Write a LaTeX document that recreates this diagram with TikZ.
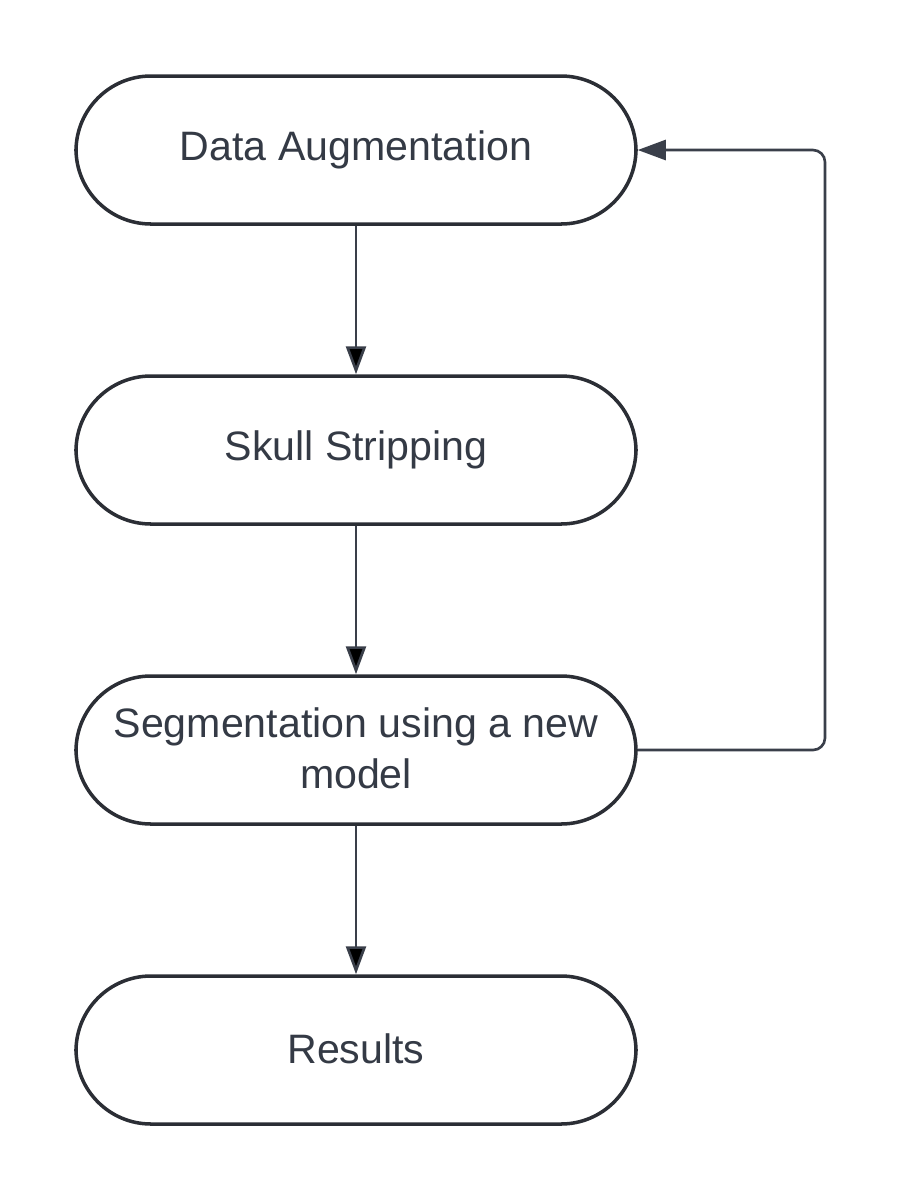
\documentclass[tikz,border=0pt]{standalone}
\usepackage{fontspec}
\setmainfont{Liberation Sans}
\usepackage{tikz}
\usetikzlibrary{arrows.meta}
\definecolor{boxline}{HTML}{2B2E35}
\definecolor{boxtext}{HTML}{343A45}
\definecolor{arrowline}{HTML}{3A3F4A}

\begin{document}
\begin{tikzpicture}[
  stage/.style={draw=boxline, line width=1pt, rounded corners=0.75cm,
    minimum width=5.6cm, minimum height=1.48cm, align=center,
    text=boxtext, font=\fontsize{11.7}{14.4}\selectfont},
  flow/.style={draw=arrowline, line width=0.75pt,
    -{Triangle[length=0.28cm, width=0.2cm]}}
]
\useasboundingbox (0,0) rectangle (9,-12);
\node [stage] (aug) at (3.56,-1.5) {\raisebox{0.8pt}{Data Augmentation}};
\node [stage] (skull) at (3.56,-4.5) {\raisebox{0.8pt}{Skull Stripping}};
\node [stage] (seg) at (3.56,-7.5) {\raisebox{1.2pt}{Segmentation using a new}\\\raisebox{1.2pt}{model}};
\node [stage] (res) at (3.56,-10.5) {\raisebox{0.8pt}{Results}};
\path [flow] (aug) edge (skull);
\path [flow] (skull) edge (seg);
\path [flow] (seg) edge (res);
\draw [flow, rounded corners=0.12cm] (seg.east) -- (8.25,-7.5) -- (8.25,-1.5) -- (aug.east);
\end{tikzpicture}
\end{document}
